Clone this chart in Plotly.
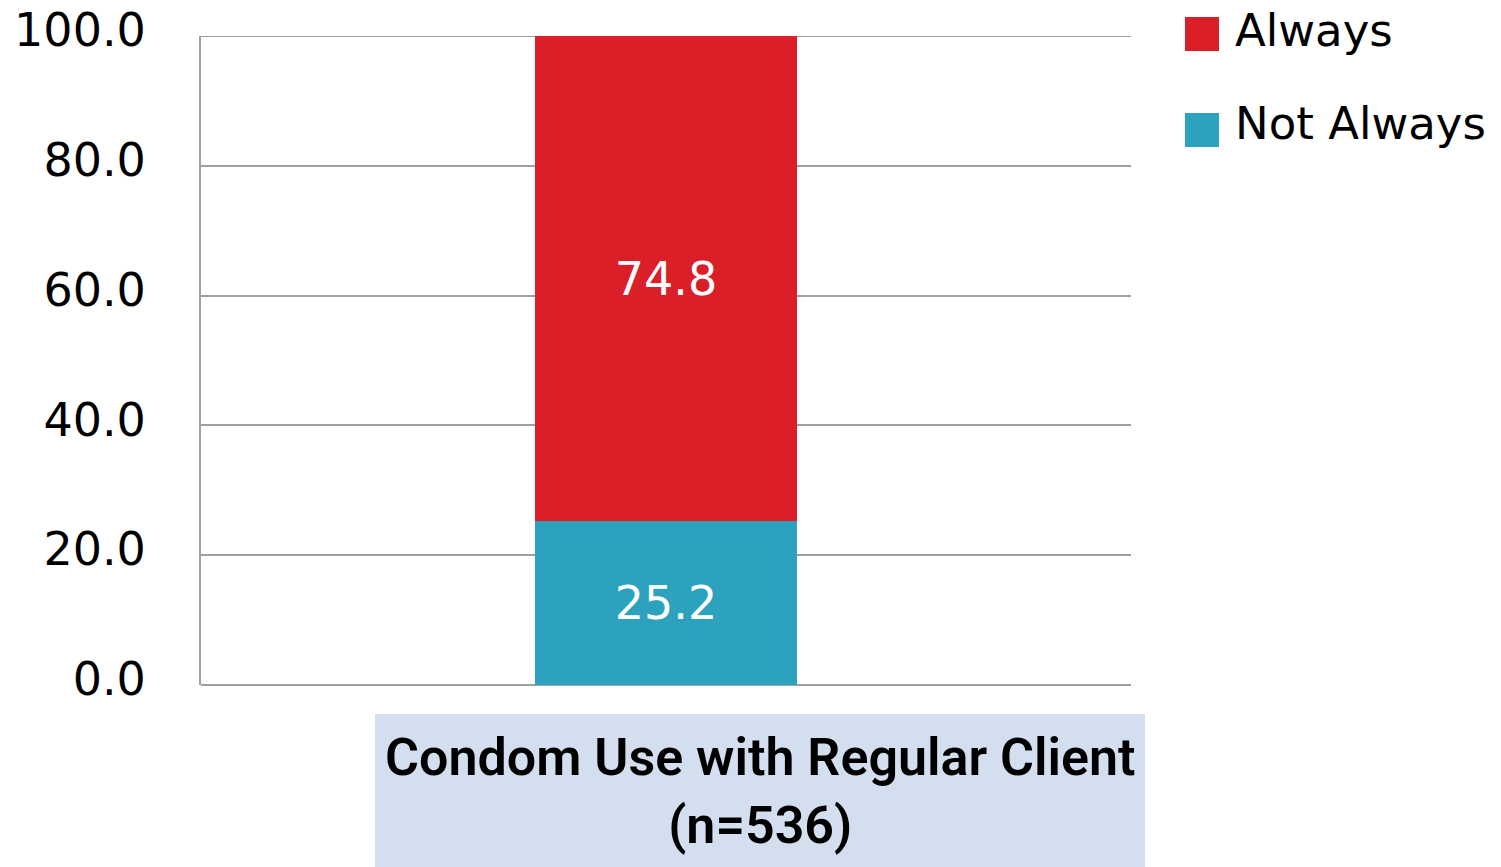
import plotly.graph_objects as go

categories = ["Condom Use with Regular Client<br>(n=536)"]
series_names = ["Not Always", "Always"]
not_always = [25.2]
always = [74.8]
colors = {"Always": "#DA1F28", "Not Always": "#2DA2BF"}
y_ticks = [0, 20, 40, 60, 80, 100]

W, H = 1501, 867
PL, PT, PW, PH = 201, 36, 930, 649  # plot area in page pixels
L, T = PL, PT
R = W - L - PW
B = H - T - PH

def px(x):
    return (x - PL) / PW

def py(y):
    return (PT + PH - y) / PH

fig = go.Figure()
for name, vals in [("Not Always", not_always), ("Always", always)]:
    fig.add_trace(go.Bar(
        x=[0], y=vals, name=name, width=0.282,
        marker=dict(color=colors[name], line=dict(width=0)),
        text=[f"{v:.1f}" for v in vals], textposition="inside",
        insidetextanchor="middle", textangle=0,
        textfont=dict(family="DejaVu Sans", size=46, color="white"),
        showlegend=False, hoverinfo="skip",
    ))

shapes = []
annotations = []
# top gridline at 100
shapes.append(dict(type="line", xref="paper", yref="y", x0=0, x1=1, y0=100, y1=100,
                   line=dict(color="#A0A0A0", width=2), layer="below"))
# category label box
shapes.append(dict(type="rect", xref="paper", yref="paper",
                   x0=px(375), x1=px(1145), y0=py(875), y1=py(714),
                   fillcolor="#D3DFEE", line=dict(width=0), layer="below"))
annotations.append(dict(xref="paper", yref="paper", x=px(760), y=py(792),
                        text=categories[0], showarrow=False,
                        xanchor="center", yanchor="middle",
                        font=dict(family="Roboto", size=52, color="black", weight=600),
                        ))
# legend (manual)
legend_items = [("Always", 17, 51, 30), ("Not Always", 113, 147, 124)]
for name, y0, y1, yc in legend_items:
    shapes.append(dict(type="rect", xref="paper", yref="paper",
                       x0=px(1185), x1=px(1219), y0=py(y1), y1=py(y0),
                       fillcolor=colors[name], line=dict(width=0)))
    annotations.append(dict(xref="paper", yref="paper", x=px(1233), y=py(yc),
                            text=name, showarrow=False, xanchor="left", yanchor="middle",
                            font=dict(family="DejaVu Sans", size=45, color="black")))

fig.update_layout(
    template="none",
    width=W, height=H, margin=dict(l=L, r=R, t=T, b=B, pad=0),
    barmode="stack", plot_bgcolor="white", paper_bgcolor="white",
    shapes=shapes, annotations=annotations, showlegend=False,
    xaxis=dict(range=[-0.5, 0.5], showticklabels=False, showgrid=False,
               zeroline=False, showline=False, fixedrange=True, automargin=False, ticks=""),
    yaxis=dict(range=[0, 100], tickvals=y_ticks, tickformat=".1f",
               tickfont=dict(family="DejaVu Sans", size=46, color="black"),
               showgrid=True, gridcolor="#A0A0A0", gridwidth=2,
               zeroline=True, zerolinecolor="#A0A0A0", zerolinewidth=2,
               showline=True, linecolor="#A0A0A0", linewidth=2, automargin=False,
               ticks="", ticklabelstandoff=44, ticklabelshift=-6,
               ticklabeloverflow="allow", fixedrange=True),
)

fig.write_html("out.html",
               config={"displayModeBar": False},
               post_script="document.body.style.margin='0px';document.body.style.overflow='hidden';")
